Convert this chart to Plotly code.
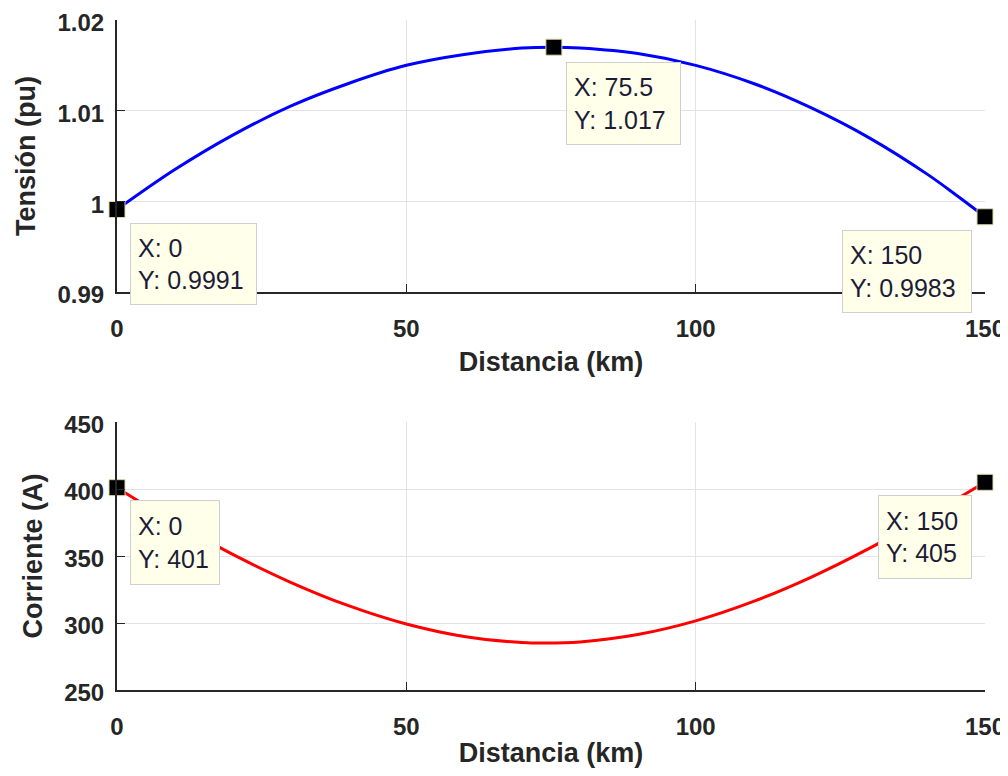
import plotly.graph_objects as go
from plotly.subplots import make_subplots

# Data
dist_v = [0, 10, 20, 30, 40, 50, 60, 70, 75.5, 80, 90, 100, 110, 120, 130, 140, 145, 150]
tension = [0.9991, 1.0035, 1.0073, 1.0105, 1.0130, 1.0150, 1.0162, 1.0169, 1.0170,
           1.0169, 1.0163, 1.0150, 1.0130, 1.0103, 1.0070, 1.0030, 1.0007, 0.9983]

dist_i = [0, 10, 20, 30, 40, 50, 60, 70, 74, 80, 90, 100, 110, 120, 130, 140, 150]
corriente = [401, 374.7, 351.2, 330.4, 312.9, 299.2, 289.9, 285.4, 285.0,
             285.9, 291.4, 301.6, 316.1, 334.3, 355.7, 379.6, 405]

tips_v_x = [0, 75.5, 150]
tips_v_y = [0.9991, 1.017, 0.9983]
tips_v_lbl = ["0.9991", "1.017", "0.9983"]
tips_i_x = [0, 150]
tips_i_y = [401, 405]
tips_i_lbl = ["401", "405"]

xticks = [0, 50, 100, 150]
vticks = [0.99, 1.0, 1.01, 1.02]
vticklbl = ["0.99", "1", "1.01", "1.02"]
iticks = [250, 300, 350, 400, 450]

fig = make_subplots(rows=2, cols=1, vertical_spacing=0.194)

fig.add_trace(go.Scatter(x=dist_v, y=tension, mode="lines", line=dict(color="#0000FF", width=3, shape="spline"),
                         showlegend=False), row=1, col=1)
fig.add_trace(go.Scatter(x=dist_i, y=corriente, mode="lines", line=dict(color="#FF0000", width=3, shape="spline"),
                         showlegend=False), row=2, col=1)
fig.add_trace(go.Scatter(x=tips_v_x, y=tips_v_y, mode="markers", cliponaxis=False,
                         marker=dict(symbol="square", size=16, color="black", line=dict(color="#d8d8b0", width=1)),
                         showlegend=False), row=1, col=1)
fig.add_trace(go.Scatter(x=tips_i_x, y=tips_i_y, mode="markers", cliponaxis=False,
                         marker=dict(symbol="square", size=16, color="black", line=dict(color="#d8d8b0", width=1)),
                         showlegend=False), row=2, col=1)

tipfont = dict(family="Arial, Liberation Sans, sans-serif", size=25, color="#1c1c38")
PAD = 7

def add_tip(x, y, lbl, xref, yref, side, w, h, xs, ys):
    fig.add_annotation(
        x=x, y=y, xref=xref, yref=yref,
        text=f"X: {x:g}<br>Y: {lbl}", showarrow=False, align="left",
        xanchor="left" if side == "r" else "right", yanchor="top",
        xshift=xs, yshift=ys,
        bgcolor="#FFFFEA", bordercolor="#cfcfcf", borderwidth=1, borderpad=PAD,
        width=w - 2 * PAD - 2, height=h - 2 * PAD - 2, font=tipfont)

add_tip(tips_v_x[0], tips_v_y[0], tips_v_lbl[0], "x", "y", "r", 127, 82, 13, -14)
add_tip(tips_v_x[1], tips_v_y[1], tips_v_lbl[1], "x", "y", "r", 115, 83, 12, -15)
add_tip(tips_v_x[2], tips_v_y[2], tips_v_lbl[2], "x", "y", "l", 130, 83, -13, -13)
add_tip(tips_i_x[0], tips_i_y[0], tips_i_lbl[0], "x2", "y2", "r", 90, 85, 13, -12)
add_tip(tips_i_x[1], tips_i_y[1], tips_i_lbl[1], "x2", "y2", "l", 94, 84, -13, -13)

axfont = dict(family="Liberation Sans, Arial, sans-serif", size=24, color="#262626")
titlefont = dict(family="Liberation Sans, Arial, sans-serif", size=27, color="#262626")

common_x = dict(range=[0, 150], tickvals=xticks, ticktext=[f"<b>{t}</b>" for t in xticks],
                showgrid=True, gridcolor="#e3e3e3", gridwidth=1,
                showline=True, linecolor="#262626", linewidth=2, ticks="inside", ticklen=8,
                tickcolor="#262626", tickwidth=1, zeroline=False, tickfont=axfont,
                ticklabelstandoff=14, automargin=False, ticklabeloverflow="allow")
fig.update_xaxes(**common_x, title=dict(text="<b>Distancia (km)</b>", font=titlefont, standoff=11), row=1, col=1)
fig.update_xaxes(**common_x, title=dict(text="<b>Distancia (km)</b>", font=titlefont, standoff=11), row=2, col=1)

common_y = dict(showgrid=True, gridcolor="#e3e3e3", gridwidth=1, showline=True, linecolor="#262626",
                linewidth=2, ticks="inside", ticklen=8, tickcolor="#262626", tickwidth=1,
                zeroline=False, tickfont=axfont, ticklabelstandoff=6, automargin=False,
                ticklabeloverflow="allow", ticklabelshift=3)
fig.update_yaxes(**common_y, range=[0.99, 1.02], tickvals=vticks, ticktext=[f"<b>{t}</b>" for t in vticklbl],
                 title=dict(text="<b>Tensión (pu)</b>", font=titlefont, standoff=14), row=1, col=1)
fig.update_yaxes(**common_y, range=[250, 450], tickvals=iticks, ticktext=[f"<b>{t}</b>" for t in iticks],
                 title=dict(text="<b>Corriente (A)</b>", font=titlefont, standoff=14), row=2, col=1)

fig.update_layout(
    width=1000, height=760,
    margin=dict(l=109, r=23, t=12, b=78),
    paper_bgcolor="white", plot_bgcolor="white",
)
fig.layout.yaxis.domain = [1 - 272 / 670, 1]
fig.layout.yaxis2.domain = [0, 268 / 670]

fig.write_html("out.html")
